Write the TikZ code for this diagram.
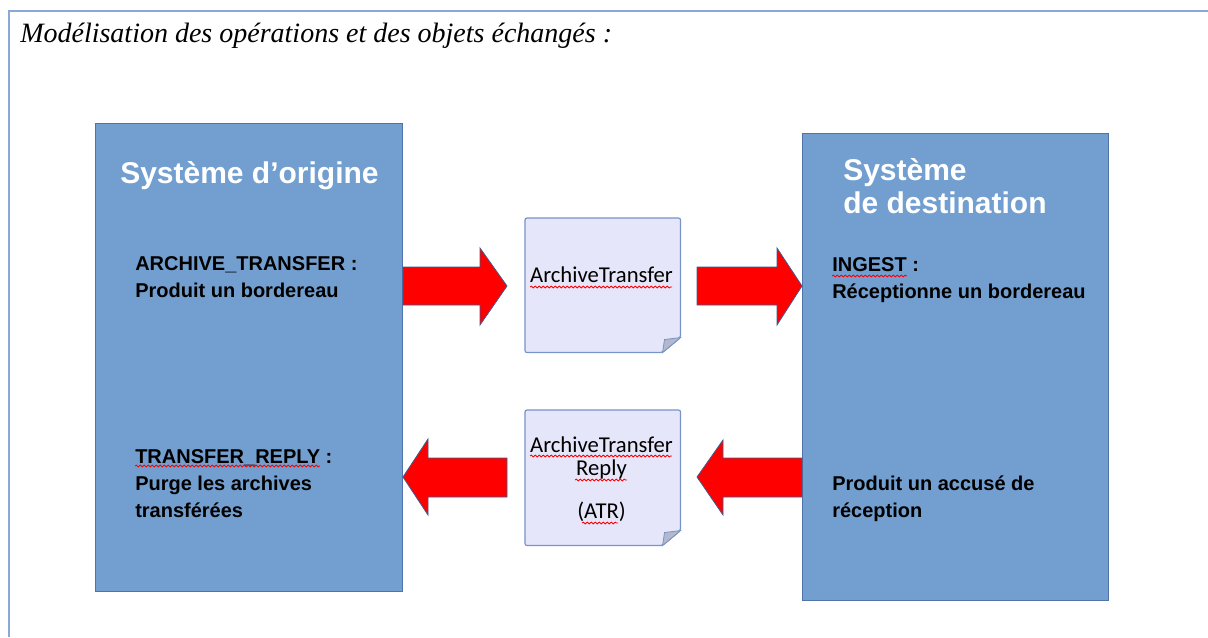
\documentclass[tikz,border=0pt]{standalone}
\usepackage{fontspec}
\setmainfont{Liberation Serif}
\newfontfamily\arialfont{Liberation Sans}
\newfontfamily\calibrifont{Carlito}
\usepackage{tikz}
\usetikzlibrary{calc, decorations.pathmorphing}
\usepackage{xcolor}
\definecolor{boxblue}{HTML}{729FCF}
\definecolor{boxedge}{HTML}{4F74AA}
\definecolor{docfill}{HTML}{E6E6FA}
\definecolor{docedge}{HTML}{7894C6}
\definecolor{foldgray}{HTML}{B4B8CC}
\definecolor{arrowedge}{HTML}{3E5C8E}
\definecolor{framecol}{HTML}{8CA8D8}
\tikzset{
  sysbox/.style={draw=boxedge, fill=boxblue, line width=0.75pt, anchor=north west, inner sep=0pt},
  docbox/.style={anchor=north west, inner sep=0pt},
  docline/.style={draw=docedge, fill=docfill, line width=0.9pt, rounded corners=1.5pt},
  blockarrow/.style={draw=arrowedge, fill=red, line width=0.6pt},
  titletext/.style={anchor=base west, inner sep=0pt, font=\fontsize{21}{24}\selectfont\itshape},
  systitle/.style={anchor=base west, inner sep=0pt, text=white, align=left, font=\arialfont\bfseries\fontsize{22.5}{24.75}\selectfont},
  optext/.style={anchor=base west, inner sep=0pt, align=left, font=\arialfont\bfseries\fontsize{15}{20.25}\selectfont},
  doctext/.style={anchor=base, inner sep=0pt, align=center, font=\calibrifont\fontsize{17}{17.25}\selectfont},
  spellwave/.style={draw=red, line width=0.6pt, decorate, decoration={snake, amplitude=0.7pt, segment length=3pt}}
}
\begin{document}
\begin{tikzpicture}[x=0.75pt,y=0.75pt,yscale=-1,xscale=1]
\useasboundingbox (0,0) rectangle (1208,637);

%Straight Lines [frame]
\draw[framecol, line width=1.2pt] (1208,11) -- (9,11) -- (9,637);

% Text Node
\node[titletext] (title) at (20,42) {Modélisation des opérations et des objets échangés :};

%Shape: Rectangle [systeme d'origine]
\node[sysbox, minimum width=307*0.75pt, minimum height=468*0.75pt] (orig) at (95,123) {};
%Shape: Rectangle [systeme de destination]
\node[sysbox, minimum width=306*0.75pt, minimum height=467*0.75pt] (dest) at (802,133) {};

%Shape: Document [ArchiveTransfer]
\node[docbox, minimum width=155*0.75pt, minimum height=134*0.75pt] (atdoc) at (525,218) {};
\draw[docline] (atdoc.north west) -- (atdoc.north east) -- ($(atdoc.south east)+(0,-15)$) -- ($(atdoc.south east)+(-18,0)$) -- (atdoc.south west) -- cycle;
\draw[docedge, fill=foldgray, line width=0.6pt] ($(atdoc.south east)+(0,-15)$) -- ($(atdoc.south east)+(-18,0)$) -- ($(atdoc.south east)+(-16,-13)$) -- cycle;
%Shape: Document [ArchiveTransferReply]
\node[docbox, minimum width=155*0.75pt, minimum height=135*0.75pt] (atrdoc) at (525,410) {};
\draw[docline] (atrdoc.north west) -- (atrdoc.north east) -- ($(atrdoc.south east)+(0,-15)$) -- ($(atrdoc.south east)+(-18,0)$) -- (atrdoc.south west) -- cycle;
\draw[docedge, fill=foldgray, line width=0.6pt] ($(atrdoc.south east)+(0,-15)$) -- ($(atrdoc.south east)+(-18,0)$) -- ($(atrdoc.south east)+(-16,-13)$) -- cycle;

%Shape: Right Arrow
\draw[blockarrow] (orig.east |- 0,267) -- (480,267) -- (480,248) -- (507,286) -- (480,325) -- (480,305) -- (orig.east |- 0,305) -- cycle;
%Shape: Right Arrow
\draw[blockarrow] (697,267) -- (777,267) -- (777,248) -- (dest.west |- 0,286) -- (777,325) -- (777,305) -- (697,305) -- cycle;
%Shape: Left Arrow
\draw[blockarrow] (orig.east |- 0,477) -- (428,439) -- (428,458) -- (507,458) -- (507,497) -- (428,497) -- (428,515) -- cycle;
%Shape: Left Arrow
\draw[blockarrow] (697,477) -- (723,440) -- (723,458) -- (dest.west |- 0,458) -- (dest.west |- 0,497) -- (723,497) -- (723,515) -- cycle;

% Text Node (multi-line nodes sit on their last baseline)
\node[systitle] (origtitle) at (120,183) {Système d’origine};
% Text Node
\node[systitle] (desttitle) at (843,213) {Système\\de destination};
% Text Node
\node[optext] (archtr) at (135,297) {ARCHIVE\_TRANSFER :\\Produit un bordereau};
% Text Node
\node[optext] (treply) at (135,517) {TRANSFER\_REPLY :\\Purge les archives\\transférées};
% Text Node
\node[optext] (ingest) at (832,298) {INGEST :\\Réceptionne un bordereau};
% Text Node
\node[optext] (accuse) at (832,517) {Produit un accusé de\\réception};
% Text Node
\node[doctext] (attext) at (601.5,282) {ArchiveTransfer};
% Text Node
\node[doctext] (atrtext) at (601.5,518) {ArchiveTransfer\\Reply\\[15pt](ATR)};

%Curve Lines [spelling marks]
\draw[spellwave] (530,287) -- (672,287);
\draw[spellwave] (530,456) -- (672,456);
\draw[spellwave] (575,480) -- (627,480);
\draw[spellwave] (582,523) -- (618,523);
\draw[spellwave] (832,276) -- (907,276);
\draw[spellwave] (135,466) -- (320,466);

\end{tikzpicture}
\end{document}
